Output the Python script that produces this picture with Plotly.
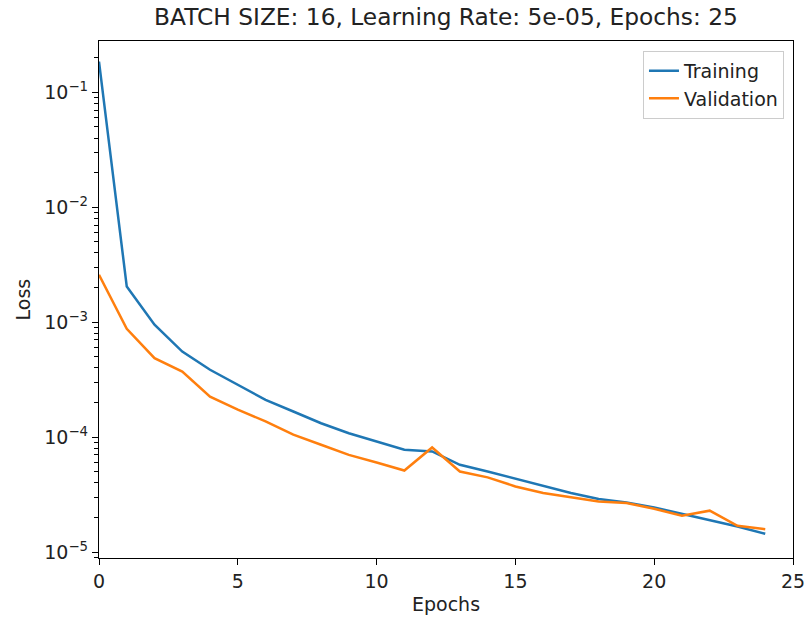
import plotly.graph_objects as go

epochs = list(range(25))
training = [0.185, 2.04e-3, 9.5e-4, 5.55e-4, 3.85e-4, 2.85e-4, 2.11e-4, 1.67e-4, 1.32e-4,
            1.08e-4, 9.15e-5, 7.76e-5, 7.5e-5, 5.74e-5, 5.02e-5, 4.34e-5, 3.77e-5, 3.26e-5,
            2.89e-5, 2.70e-5, 2.44e-5, 2.14e-5, 1.88e-5, 1.67e-5, 1.44e-5]
validation = [2.58e-3, 8.75e-4, 4.86e-4, 3.71e-4, 2.25e-4, 1.73e-4, 1.37e-4, 1.05e-4, 8.57e-5,
              7.0e-5, 6.02e-5, 5.12e-5, 8.12e-5, 5.02e-5, 4.46e-5, 3.72e-5, 3.26e-5, 2.99e-5,
              2.75e-5, 2.67e-5, 2.38e-5, 2.07e-5, 2.29e-5, 1.69e-5, 1.58e-5]

x_ticks = [0, 5, 10, 15, 20, 25]
y_ticks = [1e-5, 1e-4, 1e-3, 1e-2, 1e-1]
y_ticktext = ["10<sup>\u22125</sup>", "10<sup>\u22124</sup>", "10<sup>\u22123</sup>",
              "10<sup>\u22122</sup>", "10<sup>\u22121</sup>"]
minor_vals = [m * 10.0 ** e for e in range(-6, 0) for m in range(2, 10)]

FONT = "DejaVu Sans"

fig = go.Figure()
fig.add_trace(go.Scatter(x=epochs, y=training, mode="lines", name="Training",
                         line=dict(color="#1f77b4", width=2.5)))
fig.add_trace(go.Scatter(x=epochs, y=validation, mode="lines", name="Validation",
                         line=dict(color="#ff7f0e", width=2.5)))

fig.update_layout(
    width=805, height=619,
    margin=dict(l=99, r=12, t=41, b=61, autoexpand=False),
    paper_bgcolor="white", plot_bgcolor="white",
    font=dict(family=FONT, size=19, color="#222222"),
    title=dict(text="BATCH SIZE: 16, Learning Rate: 5e-05, Epochs: 25",
               x=(99 + 793) / 2 / 805, xanchor="center", y=1 - 17 / 619, yanchor="middle",
               font=dict(family=FONT, size=23.3, color="#222222")),
    showlegend=True,
    legend=dict(x=0.987, xanchor="right", y=0.981, yanchor="top",
                bgcolor="rgba(255,255,255,0.8)", bordercolor="#cccccc", borderwidth=1,
                font=dict(family=FONT, size=19, color="#222222"),
                tracegroupgap=0, itemwidth=30, entrywidth=128, entrywidthmode="pixels"),
    annotations=[dict(text="Loss", textangle=-90, xref="paper", yref="paper",
                      x=(22 - 99) / 694, y=0.5, xanchor="center", yanchor="middle",
                      showarrow=False, font=dict(family=FONT, size=19, color="#222222"))],
)
fig.update_xaxes(
    range=[0, 25], tickmode="array", tickvals=x_ticks, automargin=False,
    ticklabeloverflow="allow",
    ticks="outside", ticklen=6, tickwidth=1.3, tickcolor="black",
    showline=True, linecolor="black", linewidth=1.3, mirror=True,
    showgrid=False, zeroline=False,
    tickfont=dict(family=FONT, size=19, color="#222222"),
    title=dict(text="Epochs", font=dict(family=FONT, size=19), standoff=6),
)
fig.update_yaxes(
    type="log", range=[-5.052, -0.554], tickmode="array", tickvals=y_ticks, ticktext=y_ticktext,
    automargin=False, ticklabeloverflow="allow",
    ticks="outside", ticklen=6, tickwidth=1.3, tickcolor="black",
    minor=dict(tickmode="array", tickvals=minor_vals, ticks="outside", ticklen=3.5,
               tickwidth=1, tickcolor="black", showgrid=False),
    showline=True, linecolor="black", linewidth=1.3, mirror=True,
    showgrid=False, zeroline=False,
    tickfont=dict(family=FONT, size=19, color="#222222"),
)

fig.write_html("out.html")
